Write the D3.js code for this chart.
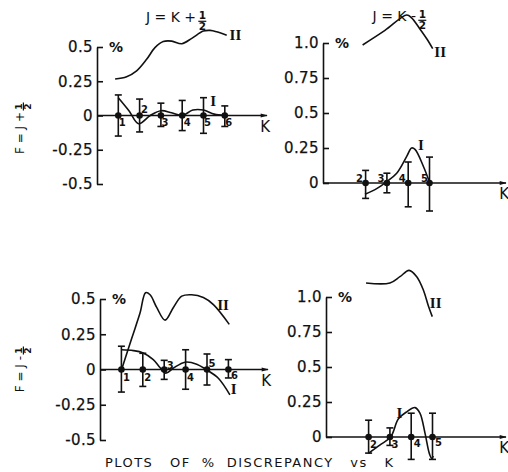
<!DOCTYPE html>
<html>
<head>
<meta charset="utf-8">
<script src="https://cdn.jsdelivr.net/npm/d3@7"></script>
<style>
  body { margin: 0; background: #fff; }
  svg { display: block; }
  text { fill: #111; font-family: "DejaVu Sans", sans-serif; }
  .tick text { font-size: 15px; letter-spacing: 0.4px; stroke: #111; stroke-width: 0.25px; }
  .roman { font-family: "Liberation Serif", serif; font-weight: bold; font-size: 15px; }
</style>
</head>
<body>
<div id="wrapper"></div>
<script>
// tick values / labels
const ticksSym = [-0.5, -0.25, 0, 0.25, 0.5]
const tickLabelsSym = ["-0.5", "-0.25", "0", "0.25", "0.5"]
const ticksPos = [0, 0.25, 0.5, 0.75, 1.0]
const tickLabelsPos = ["0", "0.25", "0.5", "0.75", "1.0"]

// top left: F = J + 1/2, J = K + 1/2
const kTL = [1, 2, 3, 4, 5, 6]
const errHiTL = [0.15, 0.12, 0.09, 0.11, 0.13, 0.07]
const errLoTL = [-0.15, -0.12, -0.08, -0.11, -0.13, -0.08]
const curveIkTL = [1, 1.5, 1.95, 2.5, 3, 3.5, 4, 4.5, 5, 5.5, 6]
const curveIvTL = [0.13, 0.035, -0.06, 0.0, 0.035, 0.02, 0.0, 0.04, 0.04, 0.01, 0.0]
const curveIIkTL = [0.85, 1.39, 1.86, 2.33, 2.72, 3.11, 3.51, 3.98, 4.45, 4.99, 5.31, 5.62, 6.09]
const curveIIvTL = [0.266, 0.283, 0.326, 0.41, 0.495, 0.54, 0.543, 0.524, 0.563, 0.616, 0.621, 0.611, 0.585]

// top right: F = J + 1/2, J = K - 1/2
const kTR = [2, 3, 4, 5]
const errHiTR = [0.09, 0.07, 0.15, 0.185]
const errLoTR = [-0.11, -0.07, -0.17, -0.2]
const curveIkTR = [1.97, 2.52, 2.99, 3.46, 3.93, 4.16, 4.32, 4.71, 4.99]
const curveIvTR = [-0.08, -0.04, 0.01, 0.07, 0.19, 0.25, 0.24, 0.12, 0.01]
const curveIIkTR = [1.86, 2.91, 3.93, 4.16, 4.55, 4.87, 5.15]
const curveIIvTR = [0.986, 1.09, 1.2, 1.18, 1.10, 1.03, 0.96]

// bottom left: F = J - 1/2, J = K + 1/2
const kBL = [1, 2, 3, 4, 5, 6]
const errHiBL = [0.165, 0.115, 0.065, 0.14, 0.11, 0.07]
const errLoBL = [-0.16, -0.12, -0.07, -0.14, -0.11, -0.06]
const curveIkBL = [1.01, 1.56, 2.02, 2.49, 2.8, 3.07, 3.43, 3.97, 4.52, 4.98, 5.53, 6.07]
const curveIvBL = [0.14, 0.134, 0.117, 0.07, 0.014, -0.026, 0.01, 0.052, 0.038, -0.002, -0.062, -0.18]
const curveIIkBL = [1.01, 1.48, 1.87, 2.13, 2.34, 2.65, 3.04, 3.43, 3.82, 4.28, 4.83, 5.3, 6.04]
const curveIIvBL = [0, 0.22, 0.4, 0.545, 0.53, 0.44, 0.35, 0.44, 0.52, 0.53, 0.51, 0.46, 0.32]

// bottom right: F = J - 1/2, J = K - 1/2
const kBR = [2, 3, 4, 5]
const errHiBR = [0.12, 0.065, 0.17, 0.17]
const errLoBR = [-0.115, -0.06, -0.16, -0.16]
const curveIkBR = [1.99, 2.54, 3.04, 3.4, 3.79, 4.18, 4.41, 4.65, 4.85, 4.96, 5.04]
const curveIvBR = [-0.117, -0.057, 0.002, 0.13, 0.18, 0.21, 0.17, 0.026, -0.117, -0.152, -0.136]
const curveIIkBR = [1.88, 3.0, 3.47, 3.9, 4.26, 4.57, 4.8, 4.99]
const curveIIvBR = [1.10, 1.10, 1.145, 1.19, 1.145, 1.05, 0.94, 0.86]

const panels = [
  { ox: 97, unit: 21.3, yTop: 47, yBottom: 184, xEnd: 267,
    ticks: ticksSym, labels: tickLabelsSym,
    k: kTL, hi: errHiTL, lo: errLoTL,
    Ik: curveIkTL, Iv: curveIvTL, IIk: curveIIkTL, IIv: curveIIvTL,
    Ilab: [5.45, 0.11], IIlab: [6.5, 0.59],
    numOff: [[4, 7], [5, -6], [4, 7], [5, 7], [4, 7], [4, 7]] },
  { ox: 323, unit: 21.3, yTop: 43, yBottom: 183, xEnd: 506,
    ticks: ticksPos, labels: tickLabelsPos,
    k: kTR, hi: errHiTR, lo: errLoTR,
    Ik: curveIkTR, Iv: curveIvTR, IIk: curveIIkTR, IIv: curveIIvTR,
    Ilab: [4.6, 0.27], IIlab: [5.5, 0.94],
    numOff: [[-6, -5], [-6, -5], [-6, -5], [-5, -5]] },
  { ox: 100, unit: 21.4, yTop: 299, yBottom: 440, xEnd: 268,
    ticks: ticksSym, labels: tickLabelsSym,
    k: kBL, hi: errHiBL, lo: errLoBL,
    Ik: curveIkBL, Iv: curveIvBL, IIk: curveIIkBL, IIv: curveIIvBL,
    Ilab: [6.25, -0.135], IIlab: [5.75, 0.46],
    numOff: [[5, 8], [5, 8], [6, -4], [5, 8], [5, -6], [6, 6]] },
  { ox: 326, unit: 21.3, yTop: 297, yBottom: 437, xEnd: 506,
    ticks: ticksPos, labels: tickLabelsPos,
    k: kBR, hi: errHiBR, lo: errLoBR,
    Ik: curveIkBR, Iv: curveIvBR, IIk: curveIIkBR, IIv: curveIIvBR,
    Ilab: [3.45, 0.17], IIlab: [5.15, 0.96],
    numOff: [[5, 7], [5, 7], [6, 6], [6, 5]] },
]

const width = 508, height = 472

const svg = d3.select("#wrapper")
  .append("svg")
  .attr("width", width)
  .attr("height", height)

svg.append("defs").append("marker")
  .attr("id", "arrow")
  .attr("viewBox", "0 0 10 10")
  .attr("refX", 9).attr("refY", 5)
  .attr("markerWidth", 9).attr("markerHeight", 7)
  .attr("markerUnits", "userSpaceOnUse")
  .attr("orient", "auto")
  .append("path")
  .attr("d", "M0,2 L10,5 L0,8 z")
  .attr("fill", "#111")

function drawPanel(p) {
  const xScale = d3.scaleLinear().domain([0, 1]).range([p.ox, p.ox + p.unit])
  const yScale = d3.scaleLinear()
    .domain([p.ticks[0], p.ticks[p.ticks.length - 1]])
    .range([p.yBottom, p.yTop])
  const g = svg.append("g")

  // y axis, ticks pointing right
  const yAxis = d3.axisLeft(yScale)
    .tickValues(p.ticks)
    .tickFormat((d, i) => p.labels[i])
    .tickSizeInner(-6)
    .tickSizeOuter(0)
    .tickPadding(4)
  const ya = g.append("g")
    .attr("transform", `translate(${p.ox},0)`)
    .call(yAxis)
  ya.select(".domain").attr("stroke", "#111").attr("stroke-width", 1.6)
  ya.selectAll(".tick line").attr("stroke", "#111").attr("stroke-width", 1.6)
  ya.selectAll(".tick text").attr("fill", "#111")
  ya.attr("font-family", null).attr("font-size", null)

  g.append("text")
    .attr("x", p.ox + 12)
    .attr("y", p.yTop + 5)
    .attr("font-size", 14)
    .attr("font-weight", "bold")
    .text("%")

  // x axis with arrow
  g.append("line")
    .attr("x1", p.ox).attr("x2", p.xEnd)
    .attr("y1", yScale(0)).attr("y2", yScale(0))
    .attr("stroke", "#111").attr("stroke-width", 1.6)
    .attr("marker-end", "url(#arrow)")
  g.append("text")
    .attr("x", p.xEnd + 3)
    .attr("y", yScale(0) + 16)
    .attr("text-anchor", "end")
    .attr("font-size", 15)
    .text("K")

  const line = d3.line()
    .x(d => xScale(d[0]))
    .y(d => yScale(d[1]))
    .curve(d3.curveCatmullRom.alpha(0.5))

  g.append("path")
    .attr("d", line(p.IIk.map((k, i) => [k, p.IIv[i]])))
    .attr("fill", "none").attr("stroke", "#111").attr("stroke-width", 1.6)
  g.append("path")
    .attr("d", line(p.Ik.map((k, i) => [k, p.Iv[i]])))
    .attr("fill", "none").attr("stroke", "#111").attr("stroke-width", 1.6)

  // error bars
  p.k.forEach((k, i) => {
    const x = xScale(k)
    g.append("line")
      .attr("x1", x).attr("x2", x)
      .attr("y1", yScale(p.hi[i])).attr("y2", yScale(p.lo[i]))
      .attr("stroke", "#111").attr("stroke-width", 1.6)
    ;[p.hi[i], p.lo[i]].forEach(v => {
      g.append("line")
        .attr("x1", x - 3.5).attr("x2", x + 3.5)
        .attr("y1", yScale(v)).attr("y2", yScale(v))
        .attr("stroke", "#111").attr("stroke-width", 1.6)
    })
    g.append("circle")
      .attr("cx", x).attr("cy", yScale(0)).attr("r", 3.3)
      .attr("fill", "#111")
    g.append("text")
      .attr("x", x + p.numOff[i][0])
      .attr("y", yScale(0) + p.numOff[i][1])
      .attr("dy", "0.35em")
      .attr("text-anchor", "middle")
      .attr("font-size", 10)
      .attr("font-weight", "bold")
      .text(k)
  })

  g.append("text")
    .attr("class", "roman")
    .attr("x", xScale(p.IIlab[0]))
    .attr("y", yScale(p.IIlab[1]))
    .attr("dy", "0.35em")
    .attr("text-anchor", "middle")
    .text("II")
  g.append("text")
    .attr("class", "roman")
    .attr("x", xScale(p.Ilab[0]))
    .attr("y", yScale(p.Ilab[1]))
    .attr("dy", "0.35em")
    .attr("text-anchor", "middle")
    .text("I")
}

panels.forEach(drawPanel)

// text with a stacked 1/2 fraction after it
function fracLabel(parent, pre, size) {
  parent.append("text")
    .attr("x", 0).attr("y", 0)
    .attr("font-size", size)
    .attr("text-anchor", "end")
    .text(pre)
  const fx = size * 0.45
  parent.append("text")
    .attr("x", fx).attr("y", -size * 0.2)
    .attr("font-size", size * 0.75)
    .attr("font-weight", "bold")
    .attr("text-anchor", "middle")
    .text("1")
  parent.append("line")
    .attr("x1", fx - 4).attr("x2", fx + 4)
    .attr("y1", -size * 0.05).attr("y2", -size * 0.05)
    .attr("stroke", "#111").attr("stroke-width", 1.2)
  parent.append("text")
    .attr("x", fx).attr("y", size * 0.6)
    .attr("font-size", size * 0.75)
    .attr("font-weight", "bold")
    .attr("text-anchor", "middle")
    .text("2")
}

fracLabel(svg.append("g").attr("transform", "translate(196,22)"), "J = K +", 14)
fracLabel(svg.append("g").attr("transform", "translate(416,21)"), "J = K -", 14)
fracLabel(svg.append("g").attr("transform", "translate(24,112) rotate(-90)"), "F = J +", 12)
fracLabel(svg.append("g").attr("transform", "translate(24,356) rotate(-90)"), "F = J -", 12)

svg.append("text")
  .attr("x", 105)
  .attr("y", 467)
  .attr("font-size", 13)
  .attr("textLength", 288)
  .attr("lengthAdjust", "spacing")
  .attr("xml:space", "preserve")
  .text("PLOTS   OF  %  DISCREPANCY   vs   K")
</script>
</body>
</html>
